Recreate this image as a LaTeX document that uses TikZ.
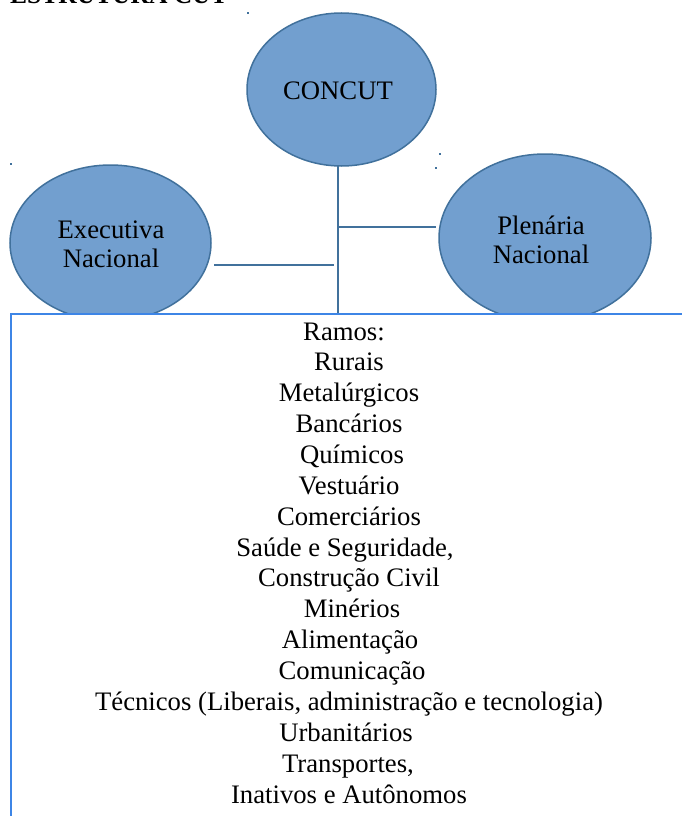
\documentclass[tikz,border=0pt]{standalone}
\usepackage{fontspec}
\setmainfont{Liberation Serif}
\usetikzlibrary{shapes.geometric}
\definecolor{ellfill}{RGB}{114,159,207}
\definecolor{elldraw}{RGB}{65,113,156}
\definecolor{boxdraw}{RGB}{61,133,230}
\begin{document}
\begin{tikzpicture}[x=1pt,y=-1pt,
  bubble/.style={ellipse, draw=elldraw, fill=ellfill, line width=1.5pt, inner sep=0pt, align=center,
    font=\fontsize{26.7}{29.5}\selectfont},
  conn/.style={draw=elldraw, line width=2pt},
  itemtxt/.style={inner sep=0pt, anchor=base, font=\fontsize{26.7}{31}\selectfont},
  speck/.style={fill=elldraw, inner sep=0pt, minimum size=2pt}]
\clip (0,0) rectangle (682,816);
\fill[white] (0,0) rectangle (682,816);
% title (cut off at top)
\node[inner sep=0pt, anchor=base west, font=\fontsize{25.5}{30}\bfseries\selectfont] (title) at (10,4) {ESTRUTURA CUT};
% specks
\node[speck] (s1) at (248,13) {};
\node[speck] (s2) at (440,154) {};
\node[speck] (s3) at (436,168) {};
\node[speck] (s4) at (11,164) {};
% bubbles
\node[bubble, minimum width=189pt, minimum height=153pt] (concut) at (341.5,89.5) {};
\node[inner sep=0pt, font=\fontsize{26.7}{29.5}\selectfont] (concutlbl) at (338,91) {CONCUT};
\node[bubble, minimum width=201pt, minimum height=156pt] (exec) at (110.5,243) {};
\node[inner sep=0pt, align=center, font=\fontsize{26.7}{29.5}\selectfont] (execlbl) at (111,244.5) {Executiva\\Nacional};
\node[bubble, minimum width=212pt, minimum height=168pt] (plen) at (545,238) {};
\node[inner sep=0pt, align=center, font=\fontsize{26.7}{29.5}\selectfont] (plenlbl) at (541,240) {Plenária\\Nacional};
% connectors
\coordinate (vtop) at (337.5,166);
\coordinate (vbot) at (337.5,313);
\coordinate (up1) at (337.5,227);
\coordinate (up2) at (436,227);
\coordinate (lo1) at (214,265);
\coordinate (lo2) at (334,265);
\draw[conn] (vtop) -- (vbot);
\draw[conn] (up1) -- (up2);
\draw[conn] (lo1) -- (lo2);
% box
\node[draw=boxdraw, fill=white, line width=1.5pt, inner sep=0pt, anchor=north west,
  minimum width=700pt, minimum height=530pt] (box) at (10,313) {};
\foreach \xx/\tt [count=\i] in {
  344/{Ramos:}, 349/{Rurais}, 349/{Metalúrgicos}, 349/{Bancários}, 352/{Químicos},
  349/{Vestuário}, 349/{Comerciários}, 345/{Saúde e Seguridade,}, 349/{Construção Civil},
  352/{Minérios}, 350/{Alimentação}, 352/{Comunicação},
  349/{Técnicos (Liberais, administração e tecnologia)}, 346/{Urbanitários},
  348/{Transportes,}, 349/{Inativos e Autônomos}} {
  \node[itemtxt] (l\i) at (\xx,{340+(\i-1)*30.87}) {\tt};
}
\end{tikzpicture}
\end{document}
